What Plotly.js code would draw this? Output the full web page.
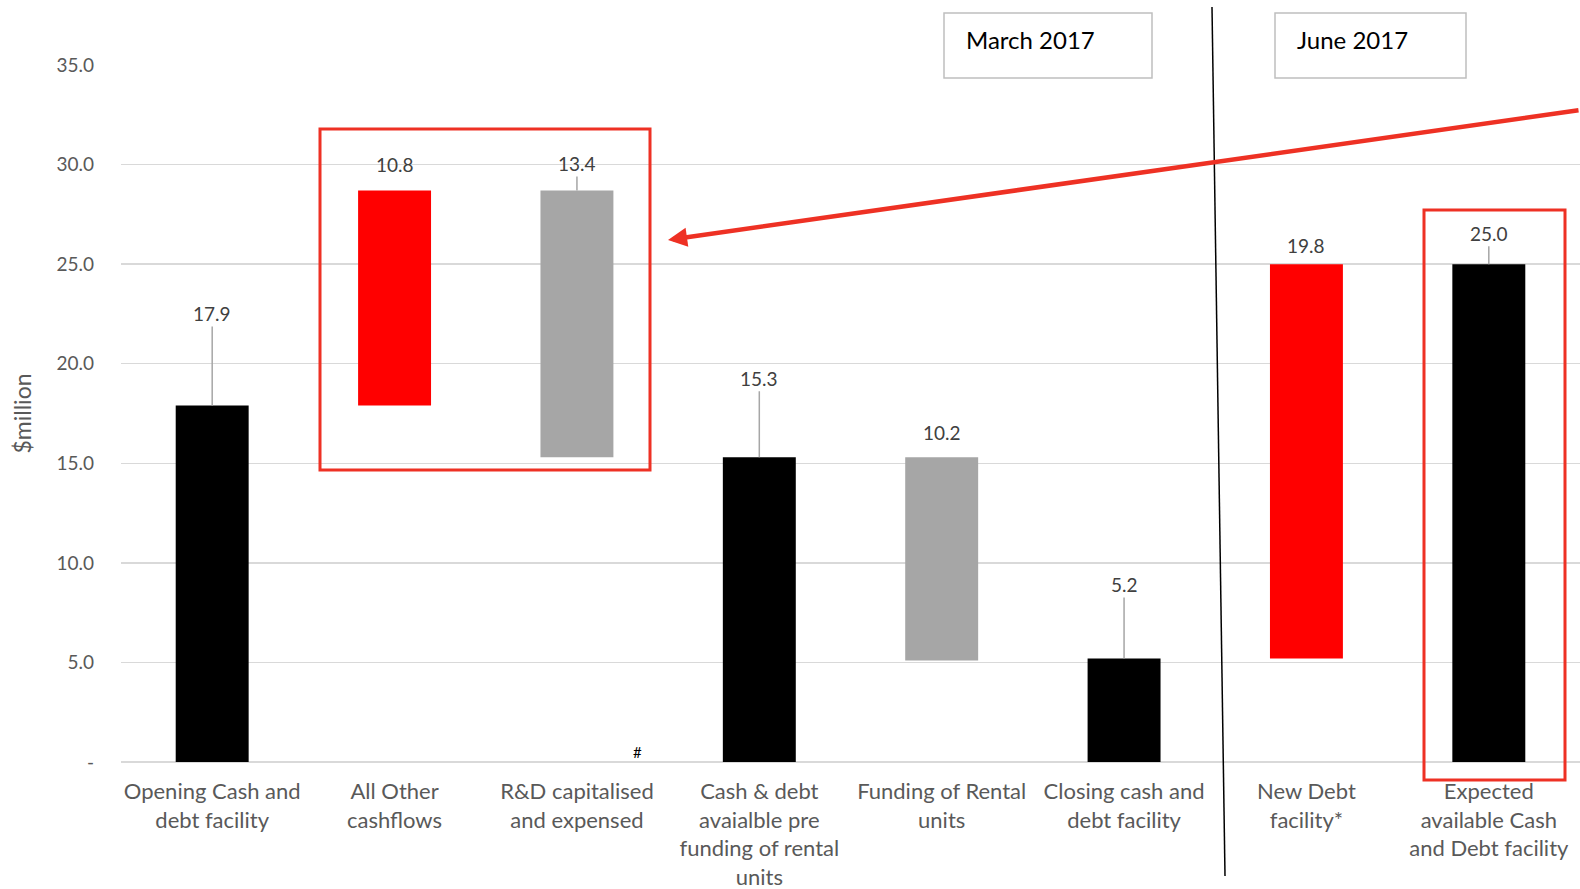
<!DOCTYPE html>
<html>
<head>
<meta charset="utf-8">
<script src="https://cdn.plot.ly/plotly-3.0.1.min.js"></script>
<style>
  html, body { margin: 0; padding: 0; background: #ffffff; }
  #chart { width: 1580px; height: 889px; }
</style>
</head>
<body>
<div id="chart"></div>
<script>
// Cash bridge, $ million
const categories = [
  'Opening Cash and<br>debt facility',
  'All Other<br>cashflows',
  'R&D capitalised<br>and expensed',
  'Cash & debt<br>avaialble pre<br>funding of rental<br>units',
  'Funding of Rental<br>units',
  'Closing cash and<br>debt facility',
  'New Debt<br>facility*',
  'Expected<br>available Cash<br>and Debt facility'
];
const measures = ['absolute', 'relative', 'relative', 'total', 'relative', 'absolute', 'relative', 'total'];
const amounts = [17.9, 10.8, -13.4, 15.3, -10.2, 5.2, 19.8, 25.0];

const yTickValues = [0, 5, 10, 15, 20, 25, 30, 35];
const yTickLabels = ['-', '5.0', '10.0', '15.0', '20.0', '25.0', '30.0', '35.0'];

// label placement: pixel lift above each bar top, and whether a leader line is drawn
const labelLift = [-92, -26, -27, -79, -25, -74, -19, -31];
const leaderShown = [true, false, true, true, false, true, false, true];

const FONT = 'Lato, "Open Sans", sans-serif';

// plot-area geometry used to place the page decorations
const M = { l: 121, r: 0, t: 65, b: 127 };
const W = 1580 - M.l - M.r;
const H = 889 - M.t - M.b;
const px = x => (x - M.l) / W;
const py = y => (889 - M.b - y) / H;

// bar tops from the running balance
let running = 0;
const tops = measures.map((m, i) => {
  const v = amounts[i];
  if (m === 'absolute') { running = v; return v; }
  if (m === 'total') { return running; }
  const prev = running;
  running += v;
  return Math.max(prev, running);
});

const trace = {
  type: 'waterfall',
  x: categories,
  y: amounts,
  measure: measures,
  textinfo: 'none',
  hoverinfo: 'skip',
  connector: { visible: false },
  increasing: { marker: { color: '#ff0000' } },
  decreasing: { marker: { color: '#a6a6a6' } },
  totals: { marker: { color: '#000000' } }
};

const valueLabels = amounts.map((v, i) => ({
  xref: 'x', yref: 'y',
  x: i, y: tops[i],
  text: Math.abs(v).toFixed(1),
  showarrow: true,
  arrowhead: 0,
  arrowwidth: 1.5,
  arrowcolor: leaderShown[i] ? '#a6a6a6' : 'rgba(0,0,0,0)',
  ax: 0, ay: labelLift[i],
  standoff: 0,
  font: { family: FONT, size: 19, color: '#404040' }
}));

const annotations = valueLabels.concat([
  {
    xref: 'paper', yref: 'paper', x: px(964), y: py(40),
    xanchor: 'left', yanchor: 'middle', showarrow: false,
    text: 'March 2017', font: { family: FONT, size: 24, color: '#000000' }
  },
  {
    xref: 'paper', yref: 'paper', x: px(1295), y: py(40),
    xanchor: 'left', yanchor: 'middle', showarrow: false,
    text: 'June 2017', font: { family: FONT, size: 24, color: '#000000' }
  },
  {
    xref: 'paper', yref: 'paper', x: px(637), y: py(752),
    xanchor: 'center', yanchor: 'middle', showarrow: false,
    text: '#', font: { family: FONT, size: 15, color: '#000000' }
  },
  {
    // pointer from the right-hand side back to the March box
    xref: 'paper', yref: 'paper', x: px(668), y: py(240),
    axref: 'pixel', ayref: 'pixel',
    ax: 932, ay: -130,
    text: '', showarrow: true,
    arrowhead: 2, arrowsize: 0.85, arrowwidth: 4.5,
    arrowcolor: '#ee3124', standoff: 0
  }
]);

const shapes = [
  // period boxes
  { type: 'rect', xref: 'paper', yref: 'paper', x0: px(944), x1: px(1152), y0: py(13), y1: py(78),
    fillcolor: '#ffffff', line: { color: '#bfbfbf', width: 1.5 }, layer: 'above' },
  { type: 'rect', xref: 'paper', yref: 'paper', x0: px(1275), x1: px(1466), y0: py(13), y1: py(78),
    fillcolor: '#ffffff', line: { color: '#bfbfbf', width: 1.5 }, layer: 'above' },
  // period divider
  { type: 'line', xref: 'paper', yref: 'paper', x0: px(1212), y0: py(7), x1: px(1225), y1: py(876),
    line: { color: '#000000', width: 1.5 }, layer: 'above' },
  // highlight frames
  { type: 'rect', xref: 'paper', yref: 'paper', x0: px(320), x1: px(650), y0: py(129), y1: py(470),
    line: { color: '#ee3124', width: 3 }, layer: 'above' },
  { type: 'rect', xref: 'paper', yref: 'paper', x0: px(1424), x1: px(1565), y0: py(210), y1: py(780),
    line: { color: '#ee3124', width: 3 }, layer: 'above' }
];

const layout = {
  width: 1580,
  height: 889,
  margin: M,
  paper_bgcolor: '#ffffff',
  plot_bgcolor: '#ffffff',
  showlegend: false,
  waterfallgap: 0.6,
  font: { family: FONT, color: '#595959' },
  xaxis: {
    type: 'category',
    range: [-0.5, 7.5],
    showgrid: false,
    showline: false,
    zeroline: false,
    ticks: '',
    ticklabelstandoff: 14,
    tickfont: { family: FONT, size: 22, color: '#595959' }
  },
  yaxis: {
    range: [0, 35],
    tickvals: yTickValues,
    ticktext: yTickLabels,
    showgrid: true,
    gridcolor: '#d9d9d9',
    gridwidth: 1.5,
    zeroline: true,
    zerolinecolor: '#d9d9d9',
    zerolinewidth: 2,
    showline: false,
    ticks: '',
    ticklabelstandoff: 26,
    tickfont: { family: FONT, size: 19, color: '#595959' },
    title: { text: '$million', standoff: 18, font: { family: FONT, size: 23, color: '#595959' } }
  },
  shapes: shapes,
  annotations: annotations
};

Plotly.newPlot('chart', [trace], layout, { staticPlot: true, displayModeBar: false });
</script>
</body>
</html>
